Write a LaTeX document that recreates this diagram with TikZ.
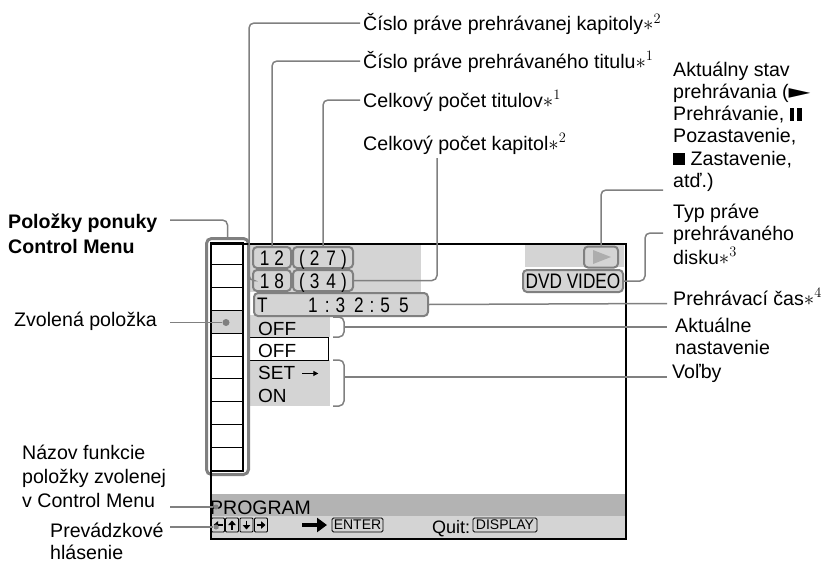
\documentclass[tikz,border=0pt]{standalone}
\usepackage{fontspec}
\setmainfont{Liberation Sans}
\newfontfamily\condf{Liberation Sans}[FakeStretch=0.82]
\newfontfamily\symf{DejaVu Sans}
\usetikzlibrary{arrows.meta}
\definecolor{scrgray}{HTML}{D4D4D4}
\definecolor{bargray}{HTML}{B3B3B3}
\definecolor{linegray}{HTML}{808080}
\newcommand{\tl}[1]{\begin{tabular}[t]{@{}l@{}}#1\end{tabular}}
\newcommand{\pausebars}{\rule{4.5pt}{13pt}\hspace{3pt}\rule{4.5pt}{13pt}}
\begin{document}
\begin{tikzpicture}[x=1pt,y=-1pt,
  conn/.style={draw=linegray,line width=1.5pt,rounded corners=5pt},
  lab/.style={anchor=base west,inner sep=0pt,font=\fontsize{19.6}{22.3}\selectfont},
  scrtxt/.style={anchor=base west,inner sep=0pt,font=\fontsize{19}{22}\selectfont},
  pill/.style={draw=linegray,line width=2pt,rounded corners=4pt,fill=scrgray,inner sep=0pt,
     font=\condf\fontsize{21}{22}\selectfont,text height=15pt,text depth=0pt,anchor=north west},
  keybox/.style={draw,line width=0.8pt,rounded corners=1pt,minimum width=13pt,minimum height=14pt,inner sep=0pt},
  keyarr/.style={line width=1.8pt,-{Triangle[length=4.5pt,width=7.5pt]}},
  smallbox/.style={draw,line width=0.8pt,rounded corners=1.5pt,minimum height=14pt,inner sep=0pt,font=\fontsize{14}{14}\selectfont},
  dot/.style={circle,fill=linegray,inner sep=0pt}
]
\useasboundingbox (0,0) rectangle (825,562);

% screen backgrounds
\fill[scrgray] (247,243) rectangle (421,292);
\fill[scrgray] (525,243) rectangle (624,267);
\fill[scrgray] (247,315) rectangle (330,337);
\fill[scrgray] (247,360) rectangle (330,406);
\fill[bargray] (210,494) rectangle (625,516);
\fill[scrgray] (210,516) rectangle (625,538);
\node[draw=black,line width=1.3pt,fill=white,minimum width=81pt,minimum height=23pt,inner sep=0pt,anchor=north west] (offbox) at (247,337) {};

% menu column
\fill[scrgray] (210,310.4) rectangle (242,333.2);
\foreach \k in {1,...,9} \draw[line width=0.9pt] (210,{242+\k*22.8}) -- (242,{242+\k*22.8});
\node[draw,line width=1.5pt,minimum width=32pt,minimum height=228pt,inner sep=0pt,anchor=north west] (col) at (210,242) {};
\node[draw=linegray,line width=3pt,rounded corners=5pt,minimum width=42pt,minimum height=236pt,inner sep=0pt,anchor=north west] (colout) at (205,237) {};

% screen frame
\node[draw,line width=1.5pt,minimum width=415pt,minimum height=295pt,inner sep=0pt,anchor=north west] (screen) at (210,243) {};

% boxed items
\node[pill,minimum width=38pt,minimum height=21pt] (b12) at (252,246) {1\hspace{5pt}2};
\node[pill,minimum width=60pt,minimum height=21pt] (b27) at (292,246) {(\hspace{5pt}2\hspace{7pt}7\hspace{5pt})};
\node[pill,minimum width=38pt,minimum height=21pt] (b18) at (252,269) {1\hspace{5pt}8};
\node[pill,minimum width=60pt,minimum height=21pt] (b34) at (292,269) {(\hspace{5pt}3\hspace{7pt}4\hspace{5pt})};
\node[pill,minimum width=174pt,minimum height=23pt] (bT) at (253,292) {};
\node[anchor=base west,inner sep=0pt,font=\condf\fontsize{21}{22}\selectfont] (tT) at (257,312) {T};
\node[anchor=base west,inner sep=0pt,font=\condf\fontsize{21}{22}\selectfont] (ttime) at (308,312)
  {1\hspace{7pt}:\hspace{6pt}3\hspace{9pt}2\hspace{6pt}:\hspace{6pt}5\hspace{9pt}5};
\node[pill,minimum width=34pt,minimum height=21pt] (bplay) at (583,245.5) {};
\fill[black!32] (593,250) -- (593,264) -- (611,257) -- cycle;
\node[pill,minimum width=100pt,minimum height=22pt] (bdvd) at (522,269) {DVD VIDEO};

% screen texts
\node[scrtxt] (toff1) at (258,335) {OFF};
\node[scrtxt] (toff2) at (258,357.5) {OFF};
\node[scrtxt] (tset) at (258,379.5) {SET};
\draw[line width=1pt,-{Triangle[length=5pt,width=5pt]}] (tset.east) ++(7,0.5) -- ++(16,0);
\node[scrtxt] (ton) at (258,402) {ON};
\node[scrtxt,font=\fontsize{19.5}{22}\selectfont] (tprog) at (210,514) {PROGRAM};

% bottom bar
\node[keybox] (k1) at (218,525) {};
\node[keybox] (k2) at (232,525) {};
\node[keybox] (k3) at (246.5,525) {};
\node[keybox] (k4) at (261,525) {};
\draw[keyarr] ([xshift=4.5pt]k1.center) -- ([xshift=-4.5pt]k1.center);
\draw[keyarr] ([yshift=-4.5pt]k2.center) -- ([yshift=4.5pt]k2.center);
\draw[keyarr] ([yshift=4.5pt]k3.center) -- ([yshift=-4.5pt]k3.center);
\draw[keyarr] ([xshift=-4.5pt]k4.center) -- ([xshift=4.5pt]k4.center);
\draw[line width=4.5pt,-{Triangle[length=10pt,width=14pt]}] (302,525) -- (327,525);
\node[smallbox,minimum width=51pt] (enter) at (357.5,525) {ENTER};
\node[anchor=base west,inner sep=0pt,font=\fontsize{18}{20}\selectfont] (quit) at (432,533.5) {Quit:};
\node[smallbox,minimum width=64pt] (disp) at (505,525) {DISPLAY};

% labels top
\node[lab] (l1) at (363,30.7) {Číslo práve prehrávanej kapitoly$\ast^{2}$};
\node[lab] (l2) at (363,68) {Číslo práve prehrávaného titulu$\ast^{1}$};
\node[lab] (l3) at (363,107) {Celkový počet titulov$\ast^{1}$};
\node[lab] (l4) at (363,150) {Celkový počet kapitol$\ast^{2}$};
% labels right
\node[lab] (l5) at (673,76) {\tl{Aktuálny stav\\prehrávania (\scalebox{1.45}[1]{\symf ►}\\Prehrávanie, \pausebars\\Pozastavenie,\\\rule{12pt}{12pt} Zastavenie,\\atď.)}};
\node[lab,font=\fontsize{19.6}{22.5}\selectfont] (l6) at (673,218) {\tl{Typ práve\\prehrávaného\\disku$\ast^{3}$}};
\node[lab] (l7) at (673,305) {Prehrávací čas$\ast^{4}$};
\node[lab,font=\fontsize{19.6}{22}\selectfont] (l8) at (675,332) {\tl{Aktuálne\\nastavenie}};
\node[lab] (l9) at (672,378) {Voľby};
% labels left
\node[lab,font=\bfseries\fontsize{19.6}{25.5}\selectfont] (l10) at (8,228) {\tl{Položky ponuky\\Control Menu}};
\node[lab] (l11) at (14,326) {Zvolená položka};
\node[lab,font=\fontsize{19.6}{24}\selectfont] (l12) at (22,459) {\tl{Názov funkcie\\položky zvolenej\\v Control Menu}};
\node[lab] (l13) at (50,537) {Prevádzkové};
\node[lab] (l13b) at (50,559.5) {hlásenie};

% connectors
\coordinate (e1) at (360,23);
\coordinate (e2) at (360,61);
\coordinate (e3) at (360,100);
\coordinate (e4) at (437,158);
\coordinate (e5) at (663,190);
\coordinate (e6) at (663,233);
\coordinate (e7) at (667,303.5);
\coordinate (br8) at (344,327);
\coordinate (e8) at (667,327);
\coordinate (br9) at (344,377);
\coordinate (e9) at (667,377);
\coordinate (e10) at (170,220);
\coordinate (e11) at (170,322.5);
\coordinate (e12) at (170,507);
\coordinate (e13) at (170,527);
\node[dot,minimum size=7pt] (dsel) at (226,322.5) {};
\node[dot,minimum size=5pt] (d12) at (216,507) {};
\node[dot,minimum size=5pt] (d13) at (216,527) {};

\draw[conn] (e1) -| ([xshift=-3pt]b18.west) -- (b18.west);
\draw[conn] (e2) -| (b12.north);
\draw[conn] (e3) -| (b27.north);
\draw[conn] (e4) |- (b34.east);
\draw[conn] (e5) -| (bplay.north);
\draw[conn] (e6) -- ++(-18,0) |- (bdvd.east);
\draw[conn] (bT.east) -- (e7);
\draw[conn] (333,317) -- (344,317) -- (344,337) -- (333,337);
\draw[conn] (br8) -- (e8);
\draw[conn] (333,360) -- (344,360) -- (344,406) -- (333,406);
\draw[conn] (br9) -- (e9);
\draw[conn] (e10) -| (colout.north);
\draw[conn] (e11) -- (dsel);
\draw[conn] (e12) -- (d12);
\draw[conn] (e13) -- (d13);
\end{tikzpicture}
\end{document}
